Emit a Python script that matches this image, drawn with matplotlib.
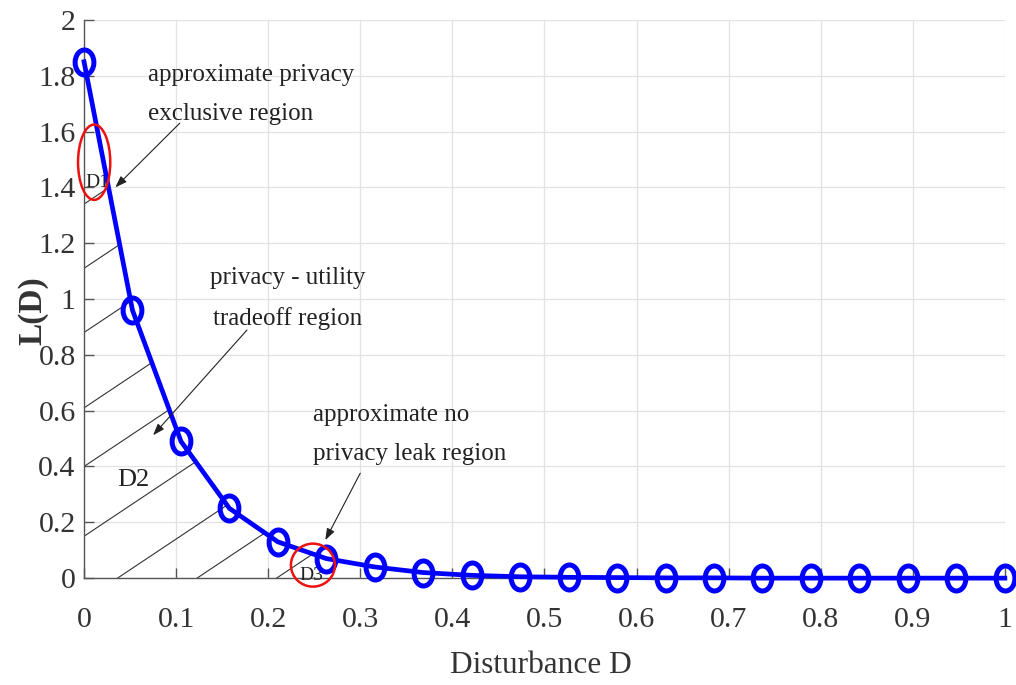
import matplotlib
matplotlib.use("Agg")
import matplotlib.pyplot as plt
from matplotlib.patches import Ellipse, Polygon
from matplotlib.markers import MarkerStyle
from matplotlib.transforms import Affine2D

plt.rcParams['font.family'] = ['Liberation Serif', 'DejaVu Serif']

# Disturbance samples and the corresponding leakage L(D)
disturbance = [0.0, 0.0526, 0.1053, 0.1579, 0.2105, 0.2632, 0.3158, 0.3684,
               0.4211, 0.4737, 0.5263, 0.5789, 0.6316, 0.6842, 0.7368,
               0.7895, 0.8421, 0.8947, 0.9474, 1.0]
leakage = [1.85, 0.96, 0.49, 0.25, 0.13, 0.07, 0.04, 0.02, 0.01, 0.005,
           0.003, 0.002, 0.001, 0.001, 0.0, 0.0, 0.0, 0.0, 0.0, 0.0]

xticks = [0.0, 0.1, 0.2, 0.3, 0.4, 0.5, 0.6, 0.7, 0.8, 0.9, 1.0]
xtick_labels = ['0', '0.1', '0.2', '0.3', '0.4', '0.5', '0.6', '0.7', '0.8', '0.9', '1']
yticks = [0.0, 0.2, 0.4, 0.6, 0.8, 1.0, 1.2, 1.4, 1.6, 1.8, 2.0]
ytick_labels = ['0', '0.2', '0.4', '0.6', '0.8', '1', '1.2', '1.4', '1.6', '1.8', '2']

fig = plt.figure(figsize=(10.16, 6.85), dpi=100)
ax = fig.add_axes([0.0827, 0.156, 0.9063, 0.815])
ax.set_xlim(0, 1)
ax.set_ylim(0, 2)

# MATLAB-like axes styling
for side in ('top', 'right'):
    ax.spines[side].set_visible(False)
for side in ('left', 'bottom'):
    ax.spines[side].set_color('#555555')
    ax.spines[side].set_linewidth(1.0)
ax.set_xticks(xticks)
ax.set_xticklabels(xtick_labels)
ax.set_yticks(yticks)
ax.set_yticklabels(ytick_labels)
ax.tick_params(direction='in', length=7, width=1, colors='#555555',
               labelcolor='#333333')
ax.tick_params(axis='x', labelsize=21.5, pad=21)
ax.tick_params(axis='y', labelsize=21.5, pad=6)
ax.grid(True, color='#e2e2e2', linewidth=0.9)
ax.set_axisbelow(True)

# Hatching under the curve, clipped to the area below L(D)
region = Polygon(list(zip(disturbance, leakage)) + [(1.0, 0.0), (0.0, 0.0)],
                 closed=True, facecolor='none', edgecolor='none')
ax.add_patch(region)
hatch_slope = 2.2
for b in [1.34, 1.11, 0.88, 0.61, 0.40, 0.15, -0.08, -0.27, -0.46]:
    hl, = ax.plot([0, 1], [b, b + hatch_slope], color='#333333', lw=0.8, zorder=2)
    hl.set_clip_path(region)

# Main curve
marker = MarkerStyle('o', transform=Affine2D().scale(0.75, 1.0))
ax.plot(disturbance, leakage, color='#0000ff', lw=3.4, marker=marker,
        markersize=18, markerfacecolor='none', markeredgewidth=3.6,
        markeredgecolor='#0000ff', zorder=4, clip_on=False)

# Region markers
ax.add_patch(Ellipse((0.011, 1.49), 0.035, 0.27, fill=False, edgecolor='#ee1111',
                     lw=1.8, zorder=5, clip_on=False))
ax.add_patch(Ellipse((0.2486, 0.0466), 0.0478, 0.154, fill=False, edgecolor='#ee1111',
                     lw=1.8, zorder=5, clip_on=False))

ax.text(0.002, 1.40, 'D1', fontsize=14, color='#222222', zorder=3)
ax.text(0.036, 0.33, 'D2', fontsize=19, color='#222222', zorder=3)
ax.text(0.234, -0.008, 'D3', fontsize=14, color='#222222', zorder=3, clip_on=False)

# Region descriptions
ax.text(0.0695, 1.842, 'approximate privacy\nexclusive region', ha='left', va='top',
        fontsize=18, linespacing=2.0, color='#222222', zorder=6)
ax.text(0.2215, 1.115, 'privacy - utility\ntradeoff region', ha='center', va='top',
        fontsize=18, linespacing=2.0, color='#222222', zorder=6)
ax.text(0.2486, 0.624, 'approximate no\nprivacy leak region', ha='left', va='top',
        fontsize=18, linespacing=2.0, color='#222222', zorder=6)

arrow = dict(arrowstyle='-|>,head_length=0.7,head_width=0.25', color='#222222',
             lw=0.8, shrinkA=0, shrinkB=0)
ax.annotate('', xy=(0.034, 1.40), xytext=(0.104, 1.63), arrowprops=arrow, zorder=6)
ax.annotate('', xy=(0.075, 0.512), xytext=(0.177, 0.889), arrowprops=arrow, zorder=6)
ax.annotate('', xy=(0.262, 0.136), xytext=(0.30, 0.376), arrowprops=arrow, zorder=6)

ax.set_xlabel('Disturbance D', fontsize=22.5, color='#333333')
ax.xaxis.set_label_coords(0.496, -0.13)
ax.set_ylabel('L(D)', fontsize=24, fontweight='bold', color='#333333')
ax.yaxis.set_label_coords(-0.039, 0.48)

fig.savefig('out.png', dpi=100, facecolor='white')
